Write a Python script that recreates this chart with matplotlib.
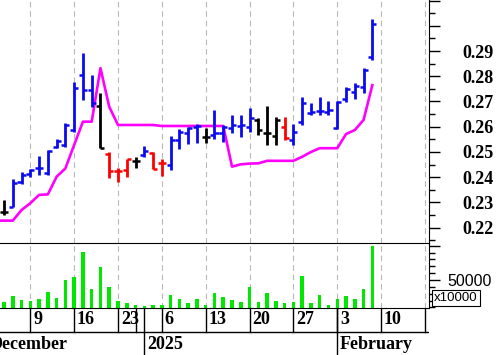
import numpy as np
import matplotlib.pyplot as plt

# daily bars (one slot per trading day)
dates = ['2024-12-03', '2024-12-04', '2024-12-05', '2024-12-06',
         '2024-12-09', '2024-12-10', '2024-12-11', '2024-12-12', '2024-12-13',
         '2024-12-16', '2024-12-17', '2024-12-18', '2024-12-19', '2024-12-20',
         '2024-12-23', '2024-12-24', '2024-12-30', '2025-01-02', '2025-01-03',
         '2025-01-06', '2025-01-07', '2025-01-08', '2025-01-09', '2025-01-10',
         '2025-01-13', '2025-01-14', '2025-01-15', '2025-01-16', '2025-01-17',
         '2025-01-20', '2025-01-21', '2025-01-22', '2025-01-23', '2025-01-24',
         '2025-01-27', '2025-01-28', '2025-01-29', '2025-01-30', '2025-01-31',
         '2025-02-03', '2025-02-04', '2025-02-05', '2025-02-06', '2025-02-07']
future = ['2025-02-10', '2025-02-11', '2025-02-12', '2025-02-13', '2025-02-14',
          '2025-02-17']

opens = [0.2250, 0.2262, 0.2281, 0.2382, 0.2413, 0.2435, 0.2418, 0.2521, 0.2528,
         0.2587, 0.2805, 0.2745, 0.2682, 0.2492, 0.2426, 0.2429, 0.2465, 0.2488,
         0.2497, 0.2455, 0.2448, 0.2547, 0.2574, 0.2600, 0.2558, 0.2567, 0.2574,
         0.2594, 0.2603, 0.2600, 0.2627, 0.2574, 0.2563, 0.2600, 0.2547, 0.2620,
         0.2655, 0.2663, 0.2660, 0.2594, 0.2709, 0.2739, 0.2759, 0.2878]
highs = [0.2262, 0.2310, 0.2392, 0.2422, 0.2431, 0.2484, 0.2508, 0.2550, 0.2614,
         0.2778, 0.2893, 0.2805, 0.2733, 0.2501, 0.2435, 0.2471, 0.2481, 0.2524,
         0.2501, 0.2471, 0.2563, 0.2590, 0.2600, 0.2611, 0.2594, 0.2667, 0.2607,
         0.2647, 0.2647, 0.2673, 0.2633, 0.2682, 0.2637, 0.2640, 0.2611, 0.2717,
         0.2693, 0.2717, 0.2700, 0.2700, 0.2756, 0.2774, 0.2831, 0.3026]
lows = [0.2236, 0.2250, 0.2281, 0.2373, 0.2402, 0.2409, 0.2408, 0.2515, 0.2521,
        0.2580, 0.2706, 0.2679, 0.2515, 0.2396, 0.2382, 0.2402, 0.2435, 0.2482,
        0.2431, 0.2405, 0.2429, 0.2511, 0.2532, 0.2537, 0.2535, 0.2550, 0.2541,
        0.2574, 0.2561, 0.2580, 0.2567, 0.2528, 0.2528, 0.2547, 0.2528, 0.2607,
        0.2647, 0.2647, 0.2647, 0.2590, 0.2699, 0.2709, 0.2735, 0.2864]
closes = [0.2244, 0.2262, 0.2376, 0.2409, 0.2429, 0.2437, 0.2505, 0.2545, 0.2607,
          0.2752, 0.2746, 0.2695, 0.2515, 0.2426, 0.2426, 0.2471, 0.2465, 0.2505,
          0.2431, 0.2455, 0.2547, 0.2580, 0.2594, 0.2603, 0.2558, 0.2574, 0.2600,
          0.2607, 0.2607, 0.2634, 0.2587, 0.2574, 0.2627, 0.2554, 0.2580, 0.2693,
          0.2658, 0.2663, 0.2665, 0.2699, 0.2748, 0.2761, 0.2825, 0.3007]
# signal state of each bar: 1 buy, -1 sell, 0 neutral
signal = [-1, 0, 1, 1, 1, 1, 1, 1, 1, 1, 1, 1, 0, -1, -1, -1, 0, 1, -1, -1,
          1, 1, 1, 1, 0, 1, 1, 1, 1, 1, 0, 0, 0, -1, 1, 1, 1, 1, 1, 1, 1, 1, 1, 1]
stop_line = [0.2228, 0.2228, 0.2228, 0.2270, 0.2297, 0.2330, 0.2332, 0.2402,
             0.2435, 0.2528, 0.2620, 0.2620, 0.2832, 0.2679, 0.2607, 0.2607,
             0.2607, 0.2607, 0.2607, 0.2603, 0.2603, 0.2603, 0.2603, 0.2603,
             0.2603, 0.2603, 0.2603, 0.2442, 0.2451, 0.2454, 0.2455, 0.2465,
             0.2465, 0.2465, 0.2465, 0.2481, 0.2500, 0.2515, 0.2515, 0.2515,
             0.2571, 0.2587, 0.2627, 0.2765]
volume = [15000, 17500, 26700, 20800, 19800, 22300, 32500, 24200, 50000, 53900,
          91300, 36900, 68500, 39400, 19800, 16900, 13500, 11600, 13500, 13500,
          28100, 22300, 16000, 22300, 13500, 30600, 24800, 20800, 18300, 39400,
          18300, 30600, 19800, 16000, 18300, 55800, 16000, 28100, 13500, 22300,
          26700, 22300, 36900, 100000]

month_names = {1: 'January', 2: 'February', 12: 'December'}

serif = 'Liberation Serif'
sans = 'Liberation Sans'
blue = '#0a0af0'
col_map = {1: blue, -1: '#ff0000', 0: '#000000'}

slots = np.array(dates + future, dtype='datetime64[D]')
n = len(dates)
x = np.arange(n)
xlim = (0.545, 49.46)

fig = plt.figure(figsize=(5, 3.55), dpi=100)
ax = fig.add_axes([0, 112 / 355, 429 / 500, 243 / 355])
axv = fig.add_axes([0, 46.7 / 355, 429 / 500, 65.3 / 355])
axd = fig.add_axes([0, 0, 429 / 500, 46.7 / 355])

# OHLC bars
tick = 0.46
for i in range(n):
    c = col_map[signal[i]]
    ax.plot([x[i], x[i]], [lows[i], highs[i]], color=c, lw=2.0,
            solid_capstyle='butt', zorder=3)
    ax.plot([x[i] - tick, x[i]], [opens[i], opens[i]], color=c, lw=1.8,
            solid_capstyle='butt', zorder=3)
    ax.plot([x[i], x[i] + tick], [closes[i], closes[i]], color=c, lw=1.8,
            solid_capstyle='butt', zorder=3)
ax.plot(x, stop_line, color='#ff00ff', lw=1.9, zorder=2)

ax.set_xlim(*xlim)
ax.set_ylim(0.21394, 0.31021)
ax.yaxis.tick_right()
major = np.arange(0.22, 0.3101, 0.01)
ax.set_yticks(major)
ax.set_yticklabels([('%.2f' % t if t < 0.295 else '') for t in major])
ax.set_yticks(np.arange(0.215, 0.3101, 0.01), minor=True)
ax.tick_params(axis='y', which='major', length=8, width=1, pad=16)
ax.tick_params(axis='y', which='minor', length=4, width=1)
for lab in ax.get_yticklabels():
    lab.set_fontfamily(serif)
    lab.set_fontweight('bold')
    lab.set_fontsize(13)
ax.set_xticks([])
for s in ['left', 'top', 'bottom']:
    ax.spines[s].set_visible(False)

# volume
axv.bar(x, volume, width=0.4, color='#00e800', zorder=2)
axv.set_xlim(*xlim)
axv.set_ylim(8740, 103950)
axv.yaxis.tick_right()
axv.set_yticks([50000, 100000])
axv.set_yticklabels(['50000', ''])
axv.set_yticks(np.arange(10000, 100001, 10000), minor=True)
axv.tick_params(axis='y', which='major', length=8, width=1, pad=5)
axv.tick_params(axis='y', which='minor', length=4, width=1)
for lab in axv.get_yticklabels():
    lab.set_fontfamily(sans)
    lab.set_fontsize(11.5)
axv.set_xticks([])
axv.spines['left'].set_visible(False)
axv.spines['top'].set_zorder(5)

fig.text(455.8 / 500, (355 - 298) / 355, 'x10000', family=sans, fontsize=9.5,
         ha='center', va='center',
         bbox=dict(boxstyle='square,pad=0.15', fc='white', ec='black', lw=0.8))

# weekly grid every 5 bars
grid_pos = np.arange(4, 50, 5)
for a in (ax, axv):
    for g in grid_pos:
        a.axvline(g, color='#b8b8b8', lw=0.8, ls=(0, (5, 3.5)), zorder=1)

# date strip
axd.set_xlim(*xlim)
axd.set_ylim(1, 0)
axd.axis('off')
axd.axhline(0.507, color='k', lw=1)
wd = (slots.view('int64') - 4) % 7  # 0 = Monday
first_monday = slots[0] - np.timedelta64(int(wd[0]), 'D')
week_idx = [-int(wd[0])] + [k for k in range(1, len(slots)) if wd[k] < wd[k - 1]]
week_day = [first_monday] + [slots[k] for k in week_idx[1:]]
month_idx = [k for k in range(1, len(slots))
             if slots[k].astype(object).month != slots[k - 1].astype(object).month]
for pos, k in enumerate(week_idx):
    axd.plot([k, k], [0, 0.507], color='k', lw=1)
    nxt = week_idx[pos + 1] if pos + 1 < len(week_idx) else k + 5
    nxt = min([nxt] + [m for m in month_idx if m > k])
    if nxt - k >= 2:
        axd.annotate(str(week_day[pos].astype(object).day), (k, 0.24),
                     xytext=(2, 0), textcoords='offset points', va='center',
                     family=serif, weight='bold', fontsize=13,
                     annotation_clip=False, clip_on=True)
for k in month_idx:
    axd.plot([k, k], [0, 1], color='k', lw=1)
    d = slots[k].astype(object)
    txt = str(d.year) if d.month == 1 else month_names[d.month]
    axd.annotate(txt, (k, 0.77), xytext=(2, 0), textcoords='offset points',
                 va='center', family=serif, weight='bold', fontsize=13)
axd.annotate(month_names[slots[0].astype(object).month], (week_idx[0], 0.77),
             xytext=(2, 0), textcoords='offset points', va='center',
             family=serif, weight='bold', fontsize=13, clip_on=True,
             annotation_clip=False)

fig.savefig('out.png', dpi=100)
